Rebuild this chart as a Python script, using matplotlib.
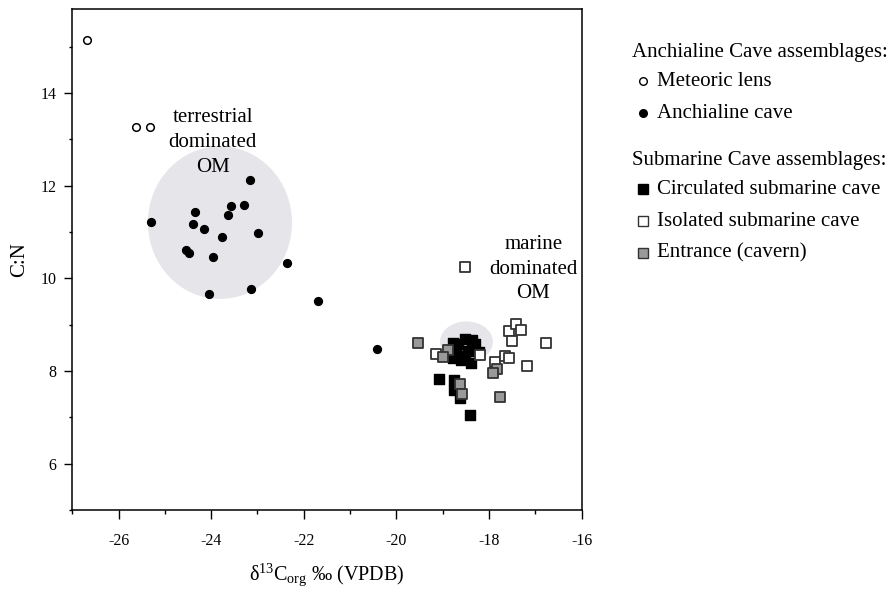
import matplotlib
matplotlib.use("Agg")
import matplotlib.pyplot as plt
from matplotlib.lines import Line2D
from matplotlib.patches import Ellipse
from matplotlib.ticker import MultipleLocator

plt.rcParams["font.family"] = ["Liberation Serif", "DejaVu Serif"]
plt.rcParams["mathtext.fontset"] = "custom"
plt.rcParams["mathtext.rm"] = "Liberation Serif"
plt.rcParams["mathtext.it"] = "Liberation Serif:italic"
plt.rcParams["axes.unicode_minus"] = False

# anchialine cave assemblages
meteoric_x = [-26.69, -25.63, -25.31]
meteoric_y = [15.15, 13.27, 13.27]

anchialine_x = [-23.17, -25.29, -24.34, -23.58, -23.30, -23.63, -24.40, -24.16, -22.99,
                -23.76, -24.54, -24.47, -23.97, -22.37, -23.13, -24.04, -21.70, -20.42]
anchialine_y = [12.12, 11.22, 11.42, 11.55, 11.58, 11.37, 11.17, 11.07, 10.97,
                10.88, 10.61, 10.55, 10.47, 10.33, 9.77, 9.67, 9.50, 8.48]

# submarine cave assemblages
circulated_x = [-19.08, -18.76, -18.76, -18.63, -18.42, -18.78, -18.53, -18.31, -18.46,
                -18.72, -18.61, -18.78, -18.40, -18.21, -18.53, -18.67, -18.37]
circulated_y = [7.83, 7.80, 7.60, 7.42, 7.06, 8.61, 8.70, 8.59, 8.44,
                8.44, 8.23, 8.27, 8.18, 8.40, 8.33, 8.59, 8.66]

isolated_x = [-18.52, -17.57, -17.41, -17.31, -17.50, -16.77, -17.87, -17.66, -17.57,
              -17.19, -19.15, -18.20]
isolated_y = [10.24, 8.86, 9.02, 8.89, 8.64, 8.60, 8.19, 8.33, 8.28,
              8.11, 8.37, 8.35]

entrance_x = [-19.53, -18.88, -18.99, -17.82, -17.92, -18.63, -18.58, -17.77]
entrance_y = [8.60, 8.46, 8.30, 8.05, 7.95, 7.72, 7.51, 7.45]

fig = plt.figure(figsize=(8.91, 5.89), dpi=100)
ax = fig.add_axes([0.081, 0.134, 0.572, 0.850])

shade = "#e5e5ea"
ax.add_patch(Ellipse((-23.81, 11.20), 3.11, 3.29, facecolor=shade, edgecolor="none", zorder=0))
ax.add_patch(Ellipse((-18.49, 8.63), 1.14, 0.88, facecolor=shade, edgecolor="none", zorder=0))

ax.scatter(meteoric_x, meteoric_y, s=30, marker="o", facecolor="white", edgecolor="black",
           linewidths=1.1, zorder=3)
ax.scatter(anchialine_x, anchialine_y, s=34, marker="o", facecolor="black", edgecolor="black",
           linewidths=0.8, zorder=3)
ax.scatter(circulated_x, circulated_y, s=62, marker="s", facecolor="black", edgecolor="black",
           linewidths=1.0, zorder=3)
ax.scatter(isolated_x, isolated_y, s=56, marker="s", facecolor="white", edgecolor="#333333",
           linewidths=1.3, zorder=4)
ax.scatter(entrance_x, entrance_y, s=56, marker="s", facecolor="#999999", edgecolor="#333333",
           linewidths=1.3, zorder=5)

ax.text(-23.97, 12.93, "terrestrial\ndominated\nOM", ha="center", va="center",
        fontsize=15, linespacing=1.4, zorder=6)
ax.text(-17.05, 10.20, "marine\ndominated\nOM", ha="center", va="center",
        fontsize=15, linespacing=1.4, zorder=6)

ax.set_xlim(-27, -16)
ax.set_ylim(5, 15.8)
ax.xaxis.set_major_locator(MultipleLocator(2))
ax.xaxis.set_minor_locator(MultipleLocator(1))
ax.yaxis.set_major_locator(MultipleLocator(2))
ax.yaxis.set_minor_locator(MultipleLocator(1))
ax.set_yticks([6, 8, 10, 12, 14])
ax.tick_params(axis="x", which="major", length=6.7, width=1.0, labelsize=11.5, pad=10)
ax.tick_params(axis="x", which="minor", length=3.2, width=1.0)
ax.tick_params(axis="y", which="major", length=5.5, width=1.0, labelsize=11.5, pad=6)
ax.tick_params(axis="y", which="minor", length=2.5, width=1.0)
for sp in ax.spines.values():
    sp.set_linewidth(1.1)

ax.set_ylabel("C:N", fontsize=15, labelpad=8)
ax.set_xlabel(r"δ$^{13}$C$_{\mathrm{org}}$ ‰ (VPDB)", fontsize=14.5, labelpad=9)

# legend drawn by hand
W, H = 891.0, 589.0
head_x, mark_x, text_x = 632 / W, 643 / W, 657 / W
rows = [
    ("head", "Anchialine Cave assemblages:", 52, None),
    ("item", "Meteoric lens", 81, dict(marker="o", markersize=5.5, markerfacecolor="white",
                                       markeredgecolor="black", markeredgewidth=1.0)),
    ("item", "Anchialine cave", 113, dict(marker="o", markersize=5.5, markerfacecolor="black",
                                          markeredgecolor="black")),
    ("head", "Submarine Cave assemblages:", 161, None),
    ("item", "Circulated submarine cave", 189, dict(marker="s", markersize=6.5, markerfacecolor="black",
                                                    markeredgecolor="black")),
    ("item", "Isolated submarine cave", 221, dict(marker="s", markersize=6.5, markerfacecolor="white",
                                                  markeredgecolor="#333333", markeredgewidth=1.0)),
    ("item", "Entrance (cavern)", 253, dict(marker="s", markersize=6.5, markerfacecolor="#999999",
                                            markeredgecolor="#333333", markeredgewidth=1.0)),
]
for kind, label, ypix, style in rows:
    yf = 1 - ypix / H
    if kind == "head":
        fig.text(head_x, yf, label, fontsize=15, va="center", ha="left")
    else:
        fig.add_artist(Line2D([mark_x], [yf], linestyle="none", transform=fig.transFigure, **style))
        fig.text(text_x, yf, label, fontsize=15, va="center", ha="left")

fig.savefig("out.png", dpi=100)
